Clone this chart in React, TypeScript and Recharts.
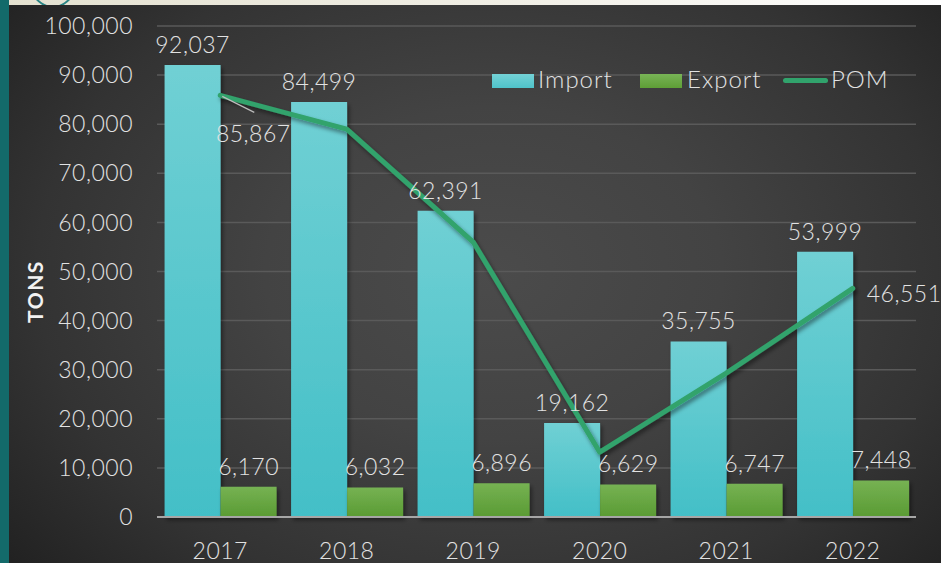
import { ComposedChart, Bar, Line, XAxis, YAxis, CartesianGrid, LabelList, Label } from "recharts";

const YEARS = ["2017", "2018", "2019", "2020", "2021", "2022"];
const IMPORT = [92037, 84499, 62391, 19162, 35755, 53999];
const EXPORT = [6170, 6032, 6896, 6629, 6747, 7448];
const POM = [85867, 79000, 56000, 13200, 29300, 46551];
const Y_TICKS = [0, 10000, 20000, 30000, 40000, 50000, 60000, 70000, 80000, 90000, 100000];

const FONT = "Lato, 'Open Sans', sans-serif";
const TEXT = "#e2e2e2";
const POM_COLOR = "#31a36c";

const fmt = (v: number) => Number(v).toLocaleString("en-US");

const data = YEARS.map((year, i) => ({
  year,
  Import: IMPORT[i],
  Export: EXPORT[i],
  POM: POM[i],
}));

function PomLabel(props: any) {
  const { x, y, value } = props;
  const i = POM.indexOf(value);
  if (i === 0) {
    return (
      <g>
        <line x1={x + 2} y1={y + 1} x2={x + 34} y2={y + 17} stroke="#bdbdbd" strokeWidth={1.2} />
        <text x={x + 33} y={y + 47} textAnchor="middle" fill={TEXT} fontSize={23} fontWeight={300} fontFamily={FONT} letterSpacing={0.5}>
          {fmt(value)}
        </text>
      </g>
    );
  }
  if (i === POM.length - 1) {
    return (
      <text x={x + 14} y={y + 14} textAnchor="start" fill={TEXT} fontSize={23} fontWeight={300} fontFamily={FONT} letterSpacing={0.5}>
        {fmt(value)}
      </text>
    );
  }
  return null;
}

function LegendOverlay() {
  const txt = { position: "absolute" as const, top: 64, fontSize: 24, fontWeight: 300, color: TEXT, fontFamily: FONT, letterSpacing: 1, lineHeight: "30px" };
  return (
    <>
      <div style={{ position: "absolute", left: 492, top: 74, width: 42, height: 14, background: "linear-gradient(#74d2d6, #4fc3ca)" }} />
      <div style={{ ...txt, left: 538 }}>Import</div>
      <div style={{ position: "absolute", left: 640, top: 74, width: 42, height: 14, background: "linear-gradient(#78b456, #5e9e36)" }} />
      <div style={{ ...txt, left: 687 }}>Export</div>
      <div style={{ position: "absolute", left: 783, top: 78, width: 45, height: 5, borderRadius: 3, background: POM_COLOR }} />
      <div style={{ ...txt, left: 831 }}>POM</div>
    </>
  );
}

const tickStyle = { fill: TEXT, fontSize: 23, fontWeight: 300, fontFamily: FONT, letterSpacing: 0.5 };

export default function App() {
  return (
    <div style={{ position: "absolute", left: 0, top: 0, width: 941, height: 563, overflow: "hidden", background: "linear-gradient(to right, #e4e1d0, #f1efe6 55%, #ffffff)" }}>
      <div style={{ position: "absolute", left: 22, top: -90, width: 58, height: 94, border: "2px solid #2a8585", borderRadius: "50%" }} />
      <div style={{ position: "absolute", left: 0, top: 0, width: 9, height: 563, background: "#136a6a" }} />
      <div
        style={{
          position: "absolute",
          left: 9,
          top: 5,
          width: 932,
          height: 558,
          background: "radial-gradient(ellipse 70% 85% at 52% 48%, #4b4b4b 0%, #434343 35%, #333333 70%, #1f1f1f 100%)",
        }}
      />
      <div style={{ position: "absolute", left: 0, top: 0 }}>
        <ComposedChart
          width={941}
          height={563}
          data={data}
          margin={{ top: 26, right: 25, bottom: 16, left: 0 }}
          barCategoryGap="6%"
          barGap={0}
        >
          <defs>
            <linearGradient id="impGrad" x1="0" y1="0" x2="0" y2="1">
              <stop offset="0%" stopColor="#70d0d4" />
              <stop offset="100%" stopColor="#43bfc7" />
            </linearGradient>
            <linearGradient id="expGrad" x1="0" y1="0" x2="0" y2="1">
              <stop offset="0%" stopColor="#76b253" />
              <stop offset="100%" stopColor="#5a9b33" />
            </linearGradient>
            <filter id="shadow" x="-20%" y="-20%" width="150%" height="150%">
              <feDropShadow dx="2" dy="3" stdDeviation="2" floodColor="#000" floodOpacity="0.45" />
            </filter>
          </defs>
          <CartesianGrid vertical={false} stroke="#5a5a5a" strokeWidth={1.5} />
          <XAxis
            dataKey="year"
            height={30}
            axisLine={{ stroke: "#a6a6a6", strokeWidth: 2 }}
            tickLine={false}
            tickSize={0}
            tickMargin={26}
            tick={tickStyle}
          />
          <YAxis
            width={157}
            domain={[0, 100000]}
            ticks={Y_TICKS}
            tickFormatter={fmt}
            axisLine={false}
            tickLine={false}
            tickSize={0}
            tickMargin={24}
            tick={tickStyle}
          >
            <Label
              value="TONS"
              angle={-90}
              position="center"
              dx={-43}
              dy={20}
              fill="#f2f2f2"
              fontSize={21}
              fontWeight={700}
              fontFamily={FONT}
              letterSpacing={1.5}
            />
          </YAxis>
          <Bar dataKey="Import" fill="url(#impGrad)" filter="url(#shadow)" isAnimationActive={false}>
            <LabelList dataKey="Import" position="top" offset={12} formatter={fmt} fill={TEXT} fontSize={23} fontWeight={300} fontFamily={FONT} letterSpacing={0.5} />
          </Bar>
          <Bar dataKey="Export" fill="url(#expGrad)" filter="url(#shadow)" isAnimationActive={false}>
            <LabelList dataKey="Export" position="top" offset={12} formatter={fmt} fill={TEXT} fontSize={23} fontWeight={300} fontFamily={FONT} letterSpacing={0.5} />
          </Bar>
          <Line
            dataKey="POM"
            type="linear"
            stroke={POM_COLOR}
            strokeWidth={5}
            strokeLinecap="round"
            strokeLinejoin="round"
            filter="url(#shadow)"
            dot={false}
            activeDot={false}
            isAnimationActive={false}
          >
            <LabelList dataKey="POM" content={PomLabel} />
          </Line>
        </ComposedChart>
      </div>
      <LegendOverlay />
    </div>
  );
}
